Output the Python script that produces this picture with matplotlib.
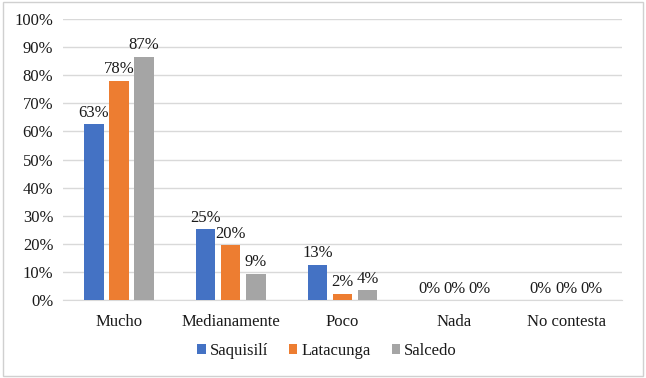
import matplotlib
matplotlib.use("Agg")
import matplotlib.pyplot as plt
import numpy as np
from matplotlib.patches import Rectangle
from matplotlib.font_manager import FontProperties

categories = ["Mucho", "Medianamente", "Poco", "Nada", "No contesta"]
series_names = ["Saquisilí", "Latacunga", "Salcedo"]
saquisili = [62.6, 25.3, 12.6, 0, 0]
latacunga = [78.0, 19.5, 2.2, 0, 0]
salcedo = [86.6, 9.3, 3.6, 0, 0]
colors = ["#4472C4", "#ED7D31", "#A5A5A5"]
yticks = [0, 10, 20, 30, 40, 50, 60, 70, 80, 90, 100]

plt.rcParams['font.family'] = ['Liberation Serif', 'DejaVu Serif']
FS = 12

fig = plt.figure(figsize=(6.46, 3.78), dpi=100)
ax = fig.add_axes([63/646, 1-300/378, (622-63)/646, (300-19)/378])

x = np.arange(len(categories))
w = 0.175
step = 0.225
for i, (vals, name, c) in enumerate(zip([saquisili, latacunga, salcedo], series_names, colors)):
    pos = x + (i - 1) * step
    ax.bar(pos, vals, width=w, color=c, label=name, zorder=3)
    for p, v in zip(pos, vals):
        ax.text(p, v + 1.2, f"{v:.0f}%", ha='center', va='bottom', fontsize=FS, color='#1a1a1a', zorder=4)

ax.set_ylim(0, 100)
ax.set_xlim(-0.5, len(categories) - 0.5)
ax.set_yticks(yticks)
ax.set_yticklabels([f"{t}%" for t in yticks])
ax.set_xticks(x)
ax.set_xticklabels(categories)
ax.tick_params(axis='both', length=0, labelsize=FS, colors='#1a1a1a')
ax.tick_params(axis='y', pad=7)
ax.tick_params(axis='x', pad=10)
ax.grid(axis='y', color='#d9d9d9', linewidth=1, zorder=0)
for s in ['top', 'right', 'left']:
    ax.spines[s].set_visible(False)
ax.spines['bottom'].set_color('#d9d9d9')

fp = FontProperties(family=['Liberation Serif', 'DejaVu Serif'], size=FS)
leg = fig.legend(loc='center', bbox_to_anchor=(327/646, 1-351/378), ncol=3, frameon=False,
                 prop=fp, handlelength=0.5, handleheight=0.5, handletextpad=0.25, columnspacing=1.25)
for t in leg.get_texts():
    t.set_color('#1a1a1a')

fig.patches.append(Rectangle((3/646, 2/378), 640/646, 374/378, transform=fig.transFigure,
                             fill=False, edgecolor='#d0d0d0', linewidth=1))

fig.savefig("out.png", dpi=100)
